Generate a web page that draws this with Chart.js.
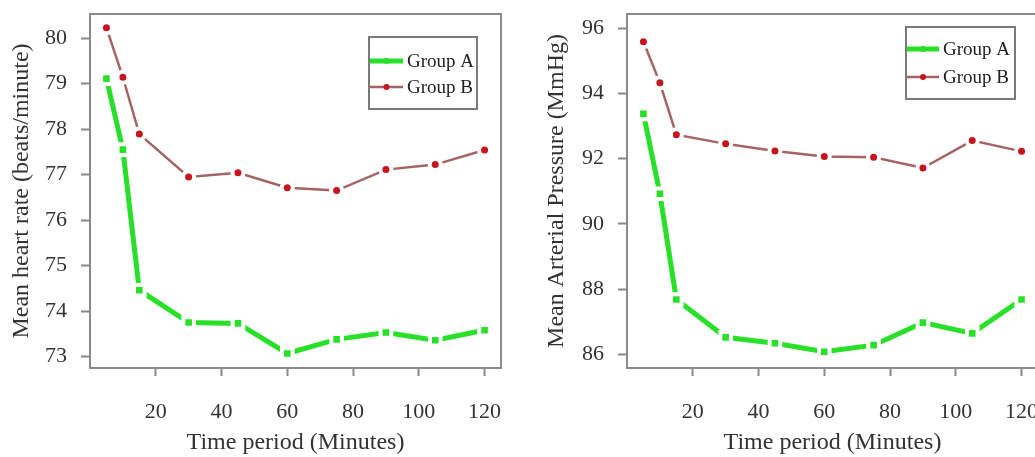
<!DOCTYPE html>
<html>
<head>
<meta charset="utf-8">
<script src="https://cdn.jsdelivr.net/npm/chart.js@4"></script>
<style>
  html, body { margin: 0; padding: 0; background: #fff; overflow: hidden; }
  body { width: 1035px; height: 457px; position: relative; }
  .panel { position: absolute; top: 0; height: 457px; }
  #left { left: 0; width: 520px; }
  #right { left: 520px; width: 530px; }
</style>
</head>
<body>
<div class="panel" id="left"><canvas id="hrChart"></canvas></div>
<div class="panel" id="right"><canvas id="mapChart"></canvas></div>
<script>
// time points (minutes) and group means
const minutes = [5, 10, 15, 30, 45, 60, 75, 90, 105, 120];
const heartRateA = [79.11, 77.55, 74.46, 73.75, 73.73, 73.07, 73.38, 73.53, 73.36, 73.58];
const heartRateB = [80.23, 79.14, 77.89, 76.95, 77.04, 76.71, 76.65, 77.11, 77.22, 77.54];
const mapA = [93.37, 90.92, 87.68, 86.52, 86.34, 86.08, 86.28, 86.97, 86.64, 87.68];
const mapB = [95.58, 94.32, 92.73, 92.45, 92.23, 92.06, 92.04, 91.71, 92.55, 92.22];

const groupNames = ['Group A', 'Group B'];
const timeTicks = [20, 40, 60, 80, 100, 120];
const heartRateTicks = [73, 74, 75, 76, 77, 78, 79, 80];
const mapTicks = [86, 88, 90, 92, 94, 96];

const FONT = "'Liberation Serif', serif";
const TEXT = '#333';
const GREEN = 'rgb(40, 224, 40)';
const MAUVE = 'rgb(165, 100, 100)';
const RED = 'rgb(200, 20, 30)';

Chart.defaults.font.family = FONT;
Chart.defaults.color = TEXT;

const toPoints = ys => minutes.map((m, i) => ({ x: m, y: ys[i] }));

// grey box around the plotting area
const frame = {
  id: 'frame',
  beforeDatasetsDraw(chart) {
    const { ctx, chartArea: a } = chart;
    ctx.save();
    ctx.strokeStyle = '#8a8a8a';
    ctx.lineWidth = 2;
    ctx.strokeRect(a.left, a.top, a.right - a.left, a.bottom - a.top);
    ctx.restore();
  }
};

// boxed legend inside the plot
const boxLegend = {
  id: 'boxLegend',
  afterDraw(chart, args, opts) {
    const { ctx } = chart;
    ctx.save();
    ctx.fillStyle = '#fff';
    ctx.fillRect(opts.x, opts.y, opts.w, opts.h);
    ctx.strokeStyle = '#7a7a7a';
    ctx.lineWidth = 2;
    ctx.strokeRect(opts.x, opts.y, opts.w, opts.h);
    chart.data.datasets.forEach((ds, i) => {
      const y = opts.y + opts.first + i * opts.gap;
      const x0 = opts.x + 1, x1 = opts.x + opts.sample;
      ctx.strokeStyle = ds.borderColor;
      ctx.lineWidth = ds.borderWidth;
      ctx.beginPath();
      ctx.moveTo(x0, y);
      ctx.lineTo(x1, y);
      ctx.stroke();
      ctx.fillStyle = ds.pointBackgroundColor;
      ctx.beginPath();
      ctx.arc((x0 + x1) / 2, y, 3, 0, Math.PI * 2);
      ctx.fill();
      ctx.fillStyle = '#222';
      ctx.font = '19px ' + FONT;
      ctx.textBaseline = 'middle';
      ctx.fillText(ds.label, x1 + 4, y + 1);
    });
    ctx.restore();
  }
};

function makeChart(id, a, b, yTicks, yMin, yMax, yTitle, axisWidth, titlePad, padRight, legend) {
  return new Chart(document.getElementById(id), {
    type: 'line',
    data: {
      datasets: [
        {
          label: groupNames[0],
          data: toPoints(a),
          borderColor: GREEN,
          borderWidth: 5,
          pointStyle: 'rect',
          pointRadius: 7.5,
          pointBorderWidth: 4,
          pointBorderColor: '#fff',
          pointBackgroundColor: GREEN,
          tension: 0
        },
        {
          label: groupNames[1],
          data: toPoints(b),
          borderColor: MAUVE,
          borderWidth: 2.5,
          pointRadius: 5.5,
          pointBorderWidth: 4,
          pointBorderColor: '#fff',
          pointBackgroundColor: RED,
          tension: 0
        }
      ]
    },
    options: {
      responsive: true,
      maintainAspectRatio: false,
      animation: false,
      events: [],
      layout: { padding: { top: 14, right: padRight, left: 0, bottom: 0 } },
      plugins: {
        legend: { display: false },
        tooltip: { enabled: false },
        boxLegend: legend
      },
      scales: {
        x: {
          type: 'linear',
          min: 0,
          max: 125,
          afterBuildTicks: s => { s.ticks = timeTicks.map(v => ({ value: v })); },
          afterFit: s => { s.height = 89; s.paddingLeft = 0; s.paddingRight = 0; },
          grid: { drawOnChartArea: false, tickLength: 8, tickColor: '#888', tickWidth: 2 },
          border: { display: false },
          ticks: { font: { size: 22 }, padding: 23, color: TEXT, maxRotation: 0 },
          title: { display: true, text: 'Time period (Minutes)', font: { size: 24 }, padding: { top: 0, bottom: 0 }, color: TEXT }
        },
        y: {
          type: 'linear',
          min: yMin,
          max: yMax,
          afterBuildTicks: s => { s.ticks = yTicks.map(v => ({ value: v })); },
          afterFit: s => { s.width = axisWidth; s.paddingTop = 0; s.paddingBottom = 0; },
          grid: { drawOnChartArea: false, tickLength: 9, tickColor: '#888', tickWidth: 2 },
          border: { display: false },
          ticks: { font: { size: 22 }, padding: 14, color: TEXT },
          title: { display: true, text: yTitle, font: { size: 24 }, padding: { top: titlePad, bottom: 0 }, color: TEXT }
        }
      }
    },
    plugins: [frame, boxLegend]
  });
}

makeChart('hrChart', heartRateA, heartRateB, heartRateTicks, 72.75, 80.53,
  'Mean heart rate (beats/minute)', 90, 7, 19,
  { x: 369, y: 37, w: 108, h: 72, first: 24, gap: 26, sample: 34 });

makeChart('mapChart', mapA, mapB, mapTicks, 85.58, 96.43,
  'Mean Arterial Pressure (MmHg)', 107, 22, 12,
  { x: 386, y: 27, w: 109, h: 72, first: 22, gap: 28, sample: 33 });
</script>
</body>
</html>
